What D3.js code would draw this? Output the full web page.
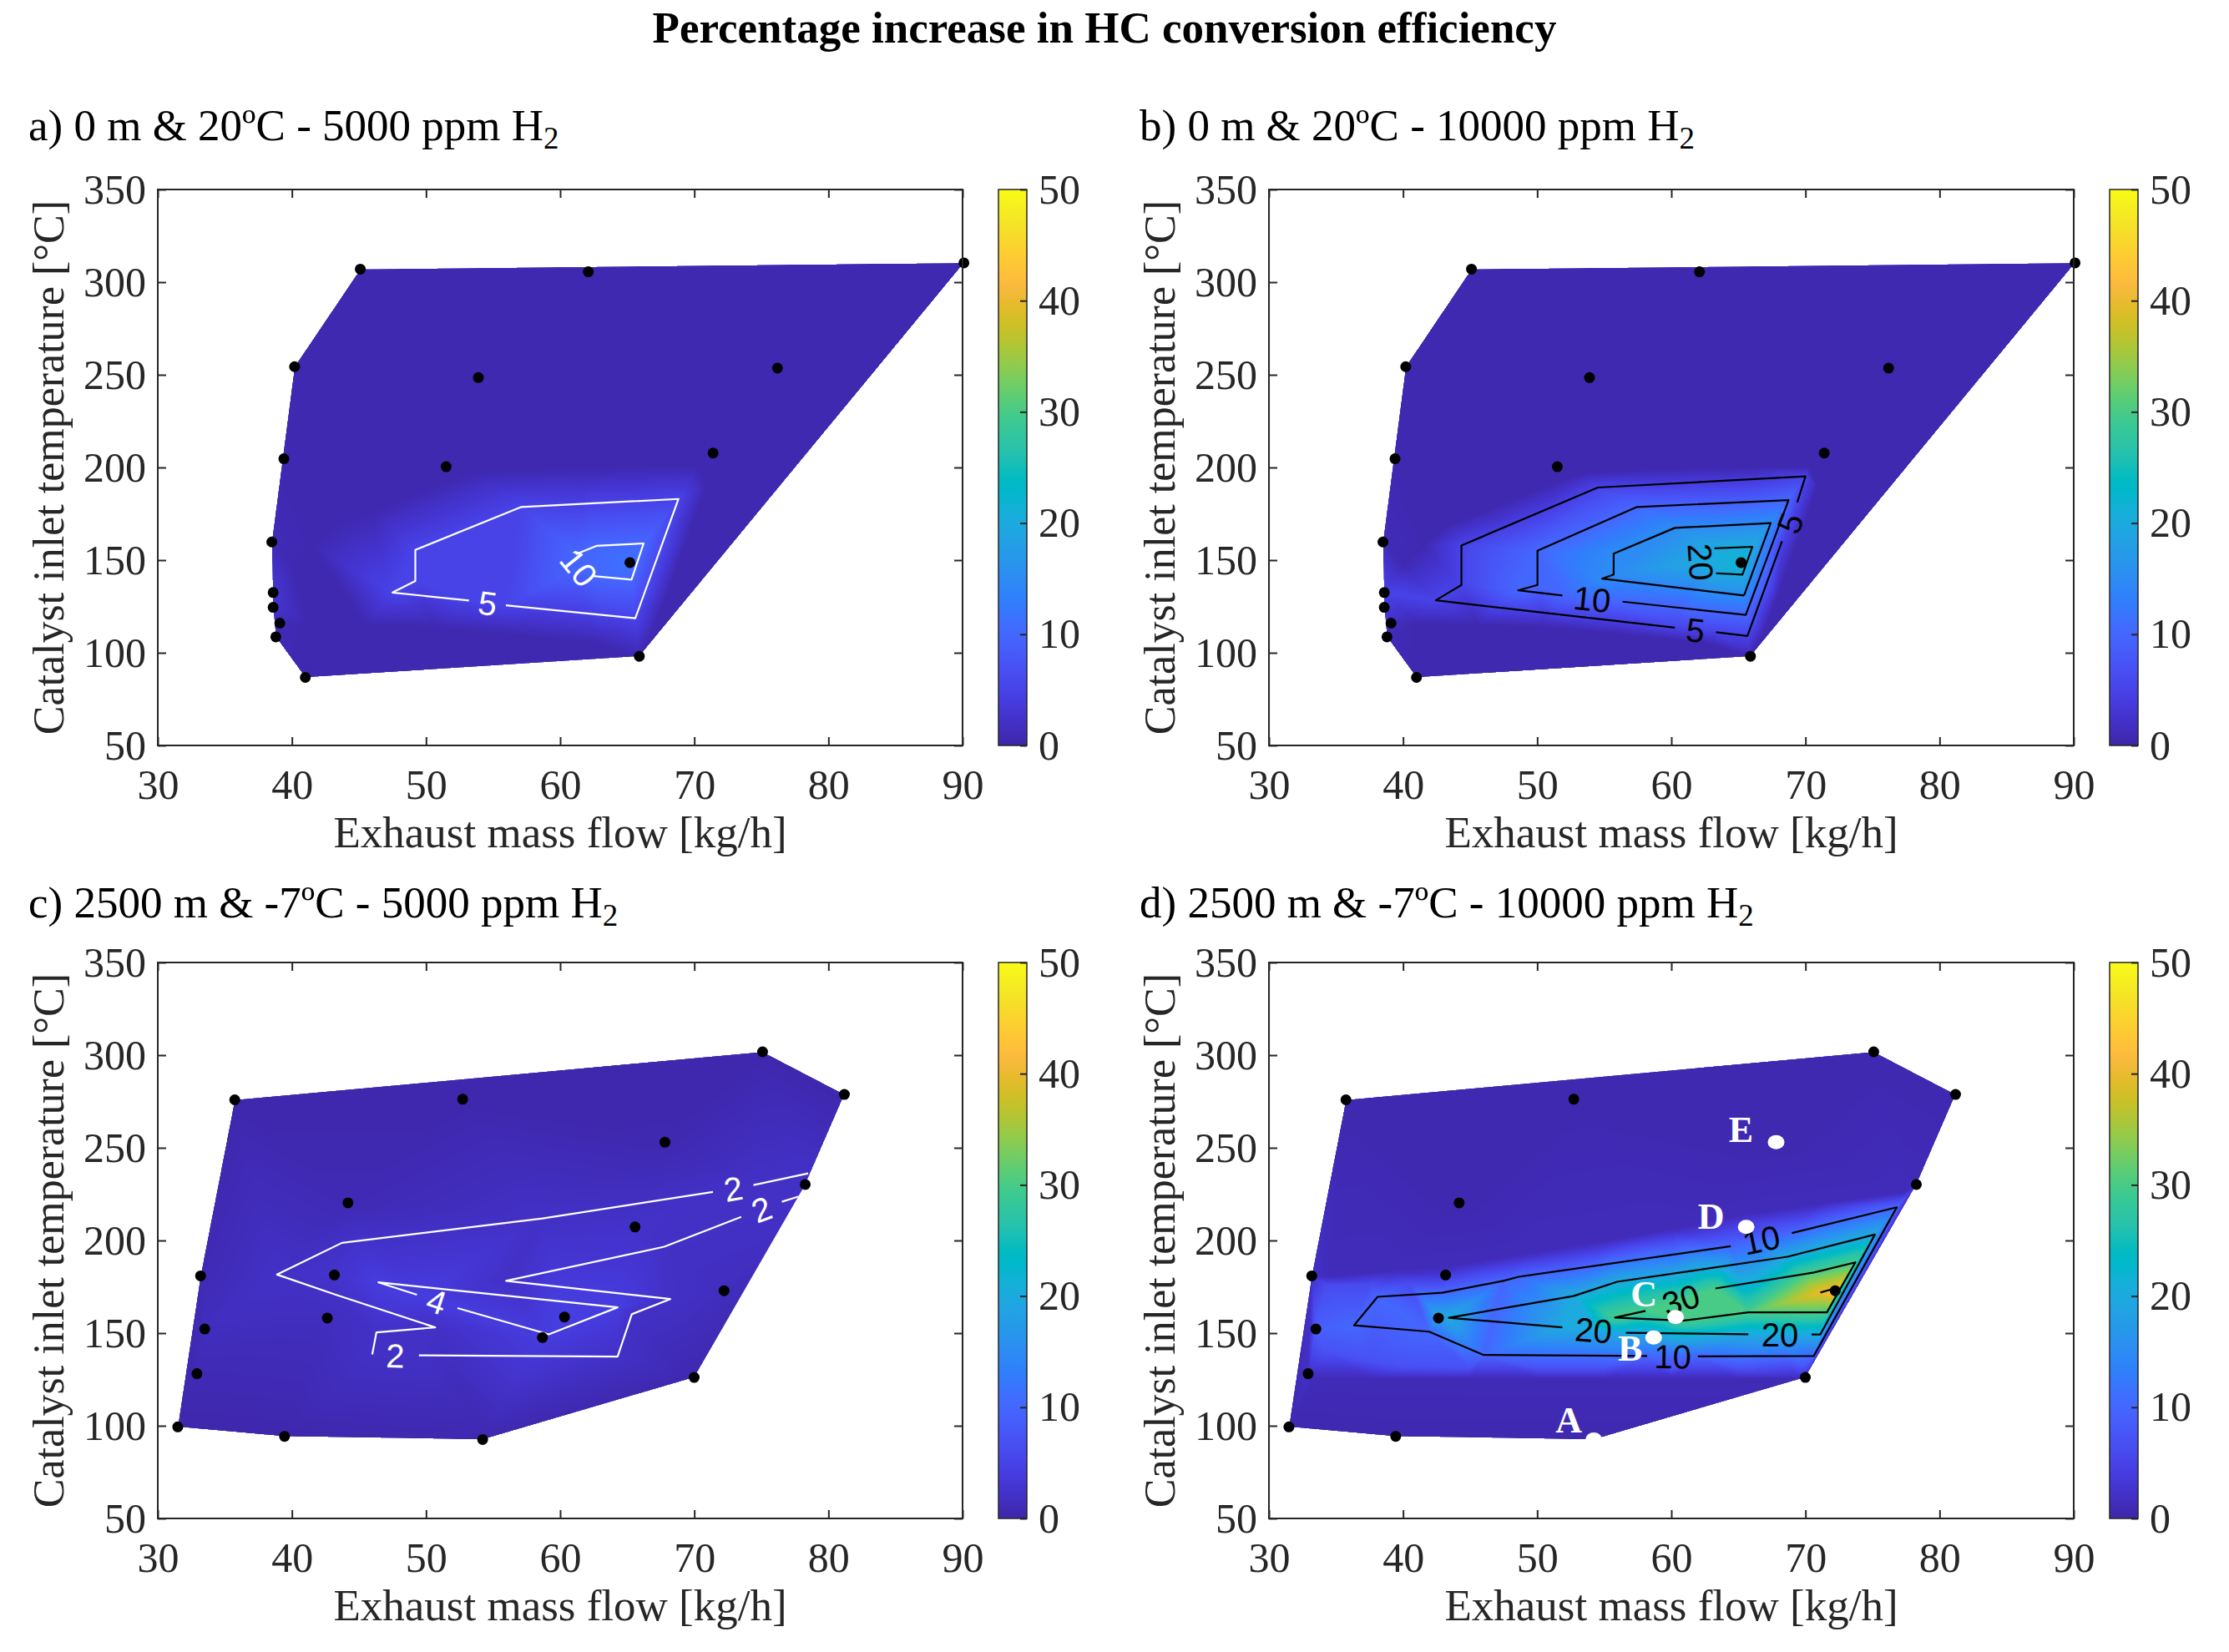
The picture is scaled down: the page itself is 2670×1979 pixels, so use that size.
<!DOCTYPE html>
<html>
<head>
<meta charset="utf-8">
<script src="https://cdn.jsdelivr.net/npm/d3@7"></script>
<style>
  body { margin: 0; background: white; }
</style>
</head>
<body>
<div id="container"></div>
<script>
// ---- data ----
// measured points, sea level (panels a and b)
const flowAB = [45.1, 62.1, 90.1, 40.2, 53.9, 76.2, 39.4, 51.5, 71.4, 38.5, 65.2, 38.6, 38.6, 39.1, 38.8, 41.0, 65.9];
const tempAB = [307.0, 305.6, 310.4, 254.4, 248.5, 253.6, 204.7, 200.4, 207.8, 159.8, 148.7, 132.5, 124.5, 116.0, 108.6, 86.7, 98.1];
const incA   = [0.5, 0.5, 0.5, 0.5, 0.5, 0.5, 0.5, 0.6, 0.5, 1.0, 11.5, 3.0, 2.5, 1.2, 0.8, 0.5, 0.6];
const incB   = [0.5, 0.5, 0.5, 0.5, 0.5, 0.5, 0.5, 0.6, 0.5, 1.2, 22.0, 5.0, 4.0, 1.8, 1.0, 0.5, 0.6];

// measured points, 2500 m (panels c and d)
const flowCD = [75.09, 81.19, 35.74, 52.73, 67.81, 78.27, 44.18, 65.58, 33.19, 43.17, 72.22, 33.50, 42.64, 60.32, 58.68, 32.92, 69.99, 31.49, 39.45, 54.22];
const tempCD = [301.8, 278.8, 275.9, 276.2, 253.0, 230.2, 220.3, 207.3, 180.9, 181.4, 172.9, 152.2, 158.1, 158.7, 147.6, 128.1, 126.1, 99.4, 94.3, 92.6];
const incC   = [0.3, 0.3, 0.3, 0.3, 0.5, 2.0, 0.8, 2.3, 0.8, 2.5, 1.5, 1.5, 1.5, 4.5, 4.0, 0.8, 0.5, 0.3, 0.3, 0.5];
const incD   = [0.5, 0.5, 0.5, 0.5, 0.5, 1.0, 0.5, 4.0, 2.0, 3.0, 43.0, 9.0, 20.0, 30.0, 18.0, 2.0, 1.0, 0.5, 0.5, 0.5];

// operating points marked in panel d
const namedNames = ['A', 'B', 'C', 'D', 'E'];
const namedIndex = [19, 14, 13, 7, 4];

// where the shading changes (read off the colours, not drawn)
const shadeAB = [
  { level: 0.6, path: [[40.0,148.0],[41.5,158.0],[43.35,168.5],[46.0,176.0],[49.0,185.0],[51.5,192.0],[53.61,197.0],[58.0,198.5],[62.0,199.3],[66.0,199.8],[70.2,200.0]] },
  { level: 0.6, path: [[41.0,116.0],[45.5,115.2],[50.59,114.0],[56.5,110.0],[62.66,105.4]] },
  { level: 0.6, path: [[70.9,190.0],[69.4,160.0],[67.9,130.0],[66.8,110.0]] }
];
const shadeD = [
  { level: 1.2, path: [[34.45,180.4],[39.0,183.5],[43.9,186.4],[49.5,193.0],[55.3,199.9],[60.0,206.0],[65.08,213.4],[71.0,219.5],[77.46,226.0]] },
  { level: 1.0, path: [[33.47,125.5],[37.5,125.5],[40.5,125.5],[45.0,125.5],[50.0,125.5],[55.0,125.5],[60.0,125.5],[65.0,125.5],[69.3,125.5]] },
  { level: 7, path: [[34.2,140.0],[37.5,135.0],[40.5,132.0],[45.0,131.3],[50.0,131.0],[55.0,131.0],[60.0,131.0],[65.0,131.0],[69.8,131.0]] },
  { level: 6, path: [[34.3,176.0],[37.5,176.5],[40.5,177.0]] }
];

// contour lines (visible pieces) and their inline labels
const contoursA = [
  { level: 5, path: [[55.95,125.6],[65.6,118.6],[68.82,183.0],[57.11,178.7],[49.2,155.5],[49.2,138.7],[47.5,132.5],[53.2,128.2]] },
  { level: 10, path: [[62.47,141.4],[65.32,139.5],[66.22,159.0],[62.70,157.7],[61.16,153.2]] }
];
const labelsA = [
  { text: '5', at: [54.6,126.9], along: [[53.2,128.2],[55.95,125.6]] },
  { text: '10', at: [61.4,146.0], along: [[61.16,153.2],[62.47,141.4]] }
];

const contoursB = [
  { level: 5, path: [[63.33,111.1],[65.67,109.1],[68.25,160.2]] },
  { level: 5, path: [[69.39,181.2],[70.0,195.2],[54.52,189.2],[44.35,157.9],[44.35,136.6],[42.44,128.3],[60.26,113.6]] },
  { level: 10, path: [[56.37,127.6],[65.55,120.4],[68.74,182.4],[57.44,178.7],[50.02,155.1],[50.02,136.6],[48.58,133.7],[51.88,130.9]] },
  { level: 15, path: [[65.42,130.9],[67.41,170.0],[60.26,167.4],[55.70,153.5],[55.70,142.2],[54.84,140.0],[65.42,130.9]] },
  { level: 20, path: [[63.21,156.4],[66.04,157.2],[65.30,142.2],[63.33,142.9]] }
];
const labelsB = [
  { text: '5', at: [68.85,170.0], along: [[68.25,160.2],[69.39,181.2]] },
  { text: '5', at: [61.8,112.3], along: [[60.26,113.6],[63.33,111.1]] },
  { text: '10', at: [54.1,129.0], along: [[51.88,130.9],[56.37,127.6]] },
  { text: '20', at: [62.2,149.0], along: [[63.21,156.4],[63.33,142.9]] }
];

const contoursC = [
  { level: 2, path: [[78.49,236.2],[74.41,229.9]] },
  { level: 2, path: [[71.39,226.2],[58.69,211.9],[43.73,198.7],[38.89,181.6],[43.27,170.7],[50.68,153.1],[46.30,150.4],[45.99,138.5]] },
  { level: 2, path: [[49.47,138.0],[64.28,137.3],[65.34,160.2],[68.21,168.4],[55.97,178.2],[67.76,196.6],[73.50,212.7]] },
  { level: 2, path: [[76.53,220.9],[77.9,224.0]] },
  { level: 4, path: [[52.34,163.5],[59.15,149.3],[64.28,163.9],[46.45,177.4],[49.32,170.7]] }
];
const labelsC = [
  { text: '2', at: [72.9,228.0], along: [[71.39,226.2],[74.41,229.9]] },
  { text: '2', at: [47.7,137.9], along: [[45.99,138.5],[49.47,138.0]] },
  { text: '2', at: [75.0,216.8], along: [[73.50,212.7],[76.53,220.9]] },
  { text: '4', at: [50.8,167.1], along: [[49.32,170.7],[52.34,163.5]] }
];

const contoursD = [
  { level: 10, path: [[68.99,204.0],[76.81,217.9],[70.62,137.7],[61.98,137.4]] },
  { level: 10, path: [[58.2,137.7],[46.01,138.2],[41.94,150.8],[36.34,154.2],[38.10,169.6],[42.92,171.8],[47.48,178.2],[48.62,180.4],[64.43,196.9]] },
  { level: 20, path: [[70.46,149.3],[71.11,149.3],[75.18,203.2],[68.66,191.2],[55.96,177.7],[52.70,170.0],[43.41,158.3],[51.88,153.1]] },
  { level: 20, path: [[56.61,150.2],[65.74,149.4]] },
  { level: 30, path: [[63.29,174.1],[70.62,182.7],[73.72,188.2],[71.60,161.2],[65.74,161.2],[60.84,156.7],[55.80,158.4],[58.08,162.0]] },
  { level: 40, path: [[71.11,171.9],[72.18,174.1]] }
];
const labelsD = [
  { text: '10', at: [66.7,200.4], along: [[64.43,196.9],[68.99,204.0]] },
  { text: '10', at: [60.1,137.5], along: [[58.2,137.7],[61.98,137.4]] },
  { text: '20', at: [68.1,149.3], along: [[65.74,149.4],[70.46,149.3]] },
  { text: '20', at: [54.2,151.6], along: [[51.88,153.1],[56.61,150.2]] },
  { text: '30', at: [60.7,168.0], along: [[58.08,162.0],[63.29,174.1]] }
];

const xTicks = [30, 40, 50, 60, 70, 80, 90];
const yTicks = [50, 100, 150, 200, 250, 300, 350];
const cTicks = [0, 10, 20, 30, 40, 50];

// parula colormap (64 steps)
const parula = [
[0.2422,0.1504,0.6603],[0.2504,0.1650,0.7076],[0.2578,0.1818,0.7511],[0.2647,0.1978,0.7952],
[0.2706,0.2147,0.8364],[0.2751,0.2342,0.8710],[0.2783,0.2559,0.8991],[0.2803,0.2782,0.9221],
[0.2813,0.3006,0.9414],[0.2810,0.3228,0.9579],[0.2795,0.3447,0.9717],[0.2760,0.3667,0.9829],
[0.2699,0.3892,0.9906],[0.2602,0.4123,0.9952],[0.2440,0.4358,0.9988],[0.2206,0.4603,0.9973],
[0.1963,0.4847,0.9892],[0.1834,0.5074,0.9798],[0.1786,0.5289,0.9682],[0.1764,0.5499,0.9520],
[0.1687,0.5703,0.9359],[0.1540,0.5902,0.9218],[0.1460,0.6091,0.9079],[0.1380,0.6276,0.8973],
[0.1248,0.6459,0.8883],[0.1113,0.6635,0.8763],[0.0952,0.6798,0.8598],[0.0689,0.6948,0.8394],
[0.0297,0.7082,0.8163],[0.0036,0.7203,0.7917],[0.0067,0.7312,0.7660],[0.0433,0.7411,0.7394],
[0.0964,0.7500,0.7120],[0.1408,0.7584,0.6842],[0.1717,0.7670,0.6554],[0.1938,0.7758,0.6251],
[0.2161,0.7843,0.5923],[0.2470,0.7918,0.5567],[0.2906,0.7973,0.5188],[0.3406,0.8008,0.4789],
[0.3909,0.8029,0.4354],[0.4456,0.8024,0.3909],[0.5044,0.7993,0.3480],[0.5616,0.7942,0.3045],
[0.6174,0.7876,0.2612],[0.6720,0.7793,0.2227],[0.7242,0.7698,0.1910],[0.7738,0.7598,0.1646],
[0.8203,0.7498,0.1535],[0.8634,0.7406,0.1596],[0.9035,0.7330,0.1774],[0.9393,0.7288,0.2100],
[0.9728,0.7298,0.2394],[0.9956,0.7434,0.2371],[0.9970,0.7659,0.2199],[0.9952,0.7893,0.2028],
[0.9892,0.8136,0.1885],[0.9786,0.8386,0.1766],[0.9676,0.8639,0.1643],[0.9610,0.8890,0.1537],
[0.9597,0.9135,0.1423],[0.9628,0.9373,0.1265],[0.9691,0.9606,0.1064],[0.9769,0.9839,0.0805]
];

function parulaRGB(t) {
  t = Math.max(0, Math.min(1, t));
  const p = t * (parula.length - 1);
  const i = Math.min(parula.length - 2, Math.floor(p));
  const f = p - i;
  return parula[i].map((c, k) => Math.round(255 * (c + (parula[i + 1][k] - c) * f)));
}

let viz = d3.select('#container')
  .append('svg')
    .attr('width', 2670)
    .attr('height', 1979)
    .style('background', 'white');

const W = 964, H = 666;
const serif = 'Liberation Serif, Times New Roman, serif';
const axisColor = '#262626';
const valueScale = d3.scaleLinear().domain([0, 50]).range([0, 1]).clamp(true);

const lut = d3.range(501).map(i => parulaRGB(i / 500));

// colorbar gradient
const defs = viz.append('defs');
const grad = defs.append('linearGradient').attr('id', 'parula')
  .attr('x1', 0).attr('y1', 1).attr('x2', 0).attr('y2', 0);
parula.forEach((c, i) => {
  grad.append('stop').attr('offset', i / (parula.length - 1))
    .attr('stop-color', d3.rgb(c[0] * 255, c[1] * 255, c[2] * 255));
});

// title
viz.append('text')
  .attr('x', 1323).attr('y', 51)
  .attr('text-anchor', 'middle')
  .attr('font-family', serif).attr('font-weight', 'bold').attr('font-size', 53)
  .text('Percentage increase in HC conversion efficiency');

const panels = [
  { tag: 'a) 0 m & 20ºC - 5000 ppm H', flow: flowAB, temp: tempAB, inc: incA, shade: shadeAB, contours: contoursA, labels: labelsA, line: 'white', x0: 189, y0: 227, ly: 168 },
  { tag: 'b) 0 m & 20ºC - 10000 ppm H', flow: flowAB, temp: tempAB, inc: incB, shade: shadeAB, contours: contoursB, labels: labelsB, line: 'black', x0: 1520, y0: 227, ly: 168 },
  { tag: 'c) 2500 m & -7ºC - 5000 ppm H', flow: flowCD, temp: tempCD, inc: incC, shade: [], contours: contoursC, labels: labelsC, line: 'white', x0: 189, y0: 1153, ly: 1099 },
  { tag: 'd) 2500 m & -7ºC - 10000 ppm H', flow: flowCD, temp: tempCD, inc: incD, shade: shadeD, contours: contoursD, labels: labelsD, line: 'black', x0: 1520, y0: 1153, ly: 1099, named: true }
];

function renderField(samples) {
  const canvas = document.createElement('canvas');
  canvas.width = W; canvas.height = H;
  const ctx = canvas.getContext('2d');
  const img = ctx.createImageData(W, H);
  const del = d3.Delaunay.from(samples, d => d.px, d => d.py);
  const t = del.triangles;
  for (let i = 0; i < t.length; i += 3) {
    const a = samples[t[i]], b = samples[t[i + 1]], c = samples[t[i + 2]];
    const det = (b.py - c.py) * (a.px - c.px) + (c.px - b.px) * (a.py - c.py);
    if (Math.abs(det) < 1e-9) continue;
    const x0 = Math.max(0, Math.floor(Math.min(a.px, b.px, c.px)));
    const x1 = Math.min(W - 1, Math.ceil(Math.max(a.px, b.px, c.px)));
    const y0 = Math.max(0, Math.floor(Math.min(a.py, b.py, c.py)));
    const y1 = Math.min(H - 1, Math.ceil(Math.max(a.py, b.py, c.py)));
    for (let yy = y0; yy <= y1; yy++) {
      const py = yy + 0.5;
      for (let xx = x0; xx <= x1; xx++) {
        const px = xx + 0.5;
        const l1 = ((b.py - c.py) * (px - c.px) + (c.px - b.px) * (py - c.py)) / det;
        const l2 = ((c.py - a.py) * (px - c.px) + (a.px - c.px) * (py - c.py)) / det;
        const l3 = 1 - l1 - l2;
        if (l1 < -1e-4 || l2 < -1e-4 || l3 < -1e-4) continue;
        const v = l1 * a.v + l2 * b.v + l3 * c.v;
        const col = lut[Math.round(valueScale(v) * 500)];
        const o = (yy * W + xx) * 4;
        img.data[o] = col[0]; img.data[o + 1] = col[1]; img.data[o + 2] = col[2]; img.data[o + 3] = 255;
      }
    }
  }
  ctx.putImageData(img, 0, 0);
  return canvas.toDataURL();
}

function labelAngle(seg, x, y) {
  let a = Math.atan2(y(seg[1][1]) - y(seg[0][1]), x(seg[1][0]) - x(seg[0][0])) * 180 / Math.PI;
  if (a > 90) a -= 180;
  if (a <= -90) a += 180;
  return a;
}

panels.forEach((p, k) => {
  const x = d3.scaleLinear().domain([30, 90]).range([p.x0, p.x0 + W]);
  const y = d3.scaleLinear().domain([50, 350]).range([p.y0 + H, p.y0]);
  const g = viz.append('g');

  // panel tag
  const tag = g.append('text')
    .attr('x', p.x0 - 155).attr('y', p.ly)
    .attr('font-family', serif).attr('font-size', 53)
    .text(p.tag);
  tag.append('tspan').attr('font-size', 37).attr('dy', 10).text('2');

  // field samples: measured points, contour vertices, shading lines
  const samples = p.flow.map((f, i) => ({ px: x(f) - p.x0, py: y(p.temp[i]) - p.y0, v: p.inc[i] }));
  p.contours.concat(p.shade).forEach(c => c.path.forEach(q => samples.push({ px: x(q[0]) - p.x0, py: y(q[1]) - p.y0, v: c.level })));
  p.labels.forEach(l => samples.push({ px: x(l.at[0]) - p.x0, py: y(l.at[1]) - p.y0, v: +l.text }));

  const hull = d3.polygonHull(p.flow.map((f, i) => [x(f), y(p.temp[i])]));
  defs.append('clipPath').attr('id', 'hull' + k)
    .append('polygon').attr('points', hull.map(q => q.join(',')).join(' '));

  g.append('image')
    .attr('x', p.x0).attr('y', p.y0)
    .attr('width', W).attr('height', H)
    .attr('preserveAspectRatio', 'none')
    .attr('clip-path', 'url(#hull' + k + ')')
    .attr('href', renderField(samples));

  // contour lines
  const line = d3.line().x(d => x(d[0])).y(d => y(d[1]));
  g.append('g').attr('clip-path', 'url(#hull' + k + ')')
    .selectAll('path').data(p.contours).join('path')
      .attr('d', d => line(d.path))
      .attr('fill', 'none')
      .attr('stroke', p.line)
      .attr('stroke-width', 2.2)
      .attr('stroke-linejoin', 'round');

  g.append('g').selectAll('text').data(p.labels).join('text')
    .attr('transform', d => 'translate(' + x(d.at[0]) + ',' + y(d.at[1]) + ') rotate(' + labelAngle(d.along, x, y) + ')')
    .attr('text-anchor', 'middle')
    .attr('dy', '0.36em')
    .attr('font-family', 'Liberation Sans, Arial, sans-serif')
    .attr('font-size', 40)
    .attr('fill', p.line)
    .text(d => d.text);

  // measured points
  const named = p.named ? namedIndex : [];
  g.append('g').selectAll('circle').data(p.flow.map((f, i) => i).filter(i => !named.includes(i))).join('circle')
    .attr('cx', i => x(p.flow[i])).attr('cy', i => y(p.temp[i]))
    .attr('r', 6.5).attr('fill', 'black');

  if (p.named) {
    const off = { A: [-30, -8], B: [-28, 28], C: [-38, -13], D: [-42, 2], E: [-42, 0] };
    namedIndex.forEach((i, j) => {
      g.append('ellipse')
        .attr('cx', x(p.flow[i])).attr('cy', y(p.temp[i]))
        .attr('rx', 10).attr('ry', 8.5).attr('fill', 'white');
      const n = namedNames[j];
      g.append('text')
        .attr('x', x(p.flow[i]) + off[n][0]).attr('y', y(p.temp[i]) + off[n][1])
        .attr('text-anchor', 'middle')
        .attr('font-family', serif).attr('font-weight', 'bold').attr('font-size', 44)
        .attr('fill', 'white')
        .text(n);
    });
  }

  // axes (ticks inside, box on)
  const styleAxis = sel => {
    sel.select('.domain').remove();
    sel.selectAll('line').attr('stroke', axisColor).attr('stroke-width', 2);
    sel.selectAll('text').attr('fill', axisColor);
    sel.attr('font-family', serif).attr('font-size', 50);
  };
  g.append('g').attr('transform', 'translate(0,' + (p.y0 + H) + ')')
    .call(d3.axisBottom(x).tickValues(xTicks).tickSize(-10).tickPadding(28)).call(styleAxis);
  g.append('g').attr('transform', 'translate(0,' + p.y0 + ')')
    .call(d3.axisTop(x).tickValues(xTicks).tickSize(-10).tickFormat('')).call(styleAxis);
  g.append('g').attr('transform', 'translate(' + p.x0 + ',0)')
    .call(d3.axisLeft(y).tickValues(yTicks).tickSize(-10).tickPadding(14)).call(styleAxis);
  g.append('g').attr('transform', 'translate(' + (p.x0 + W) + ',0)')
    .call(d3.axisRight(y).tickValues(yTicks).tickSize(-10).tickFormat('')).call(styleAxis);
  g.append('rect')
    .attr('x', p.x0).attr('y', p.y0).attr('width', W).attr('height', H)
    .attr('fill', 'none').attr('stroke', axisColor).attr('stroke-width', 2);

  // axis titles
  g.append('text')
    .attr('x', p.x0 + W / 2).attr('y', p.y0 + H + 122)
    .attr('text-anchor', 'middle')
    .attr('font-family', serif).attr('font-size', 53).attr('fill', axisColor)
    .text('Exhaust mass flow [kg/h]');
  g.append('text')
    .attr('transform', 'translate(' + (p.x0 - 113) + ',' + (p.y0 + H / 2) + ') rotate(-90)')
    .attr('text-anchor', 'middle')
    .attr('font-family', serif).attr('font-size', 52).attr('fill', axisColor)
    .text('Catalyst inlet temperature [°C]');

  // colorbar
  const cbx = p.x0 + 1007, cbw = 34;
  const cy = d3.scaleLinear().domain([0, 50]).range([p.y0 + H, p.y0]);
  g.append('rect')
    .attr('x', cbx).attr('y', p.y0).attr('width', cbw).attr('height', H)
    .attr('fill', 'url(#parula)');
  g.append('g').attr('transform', 'translate(' + (cbx + cbw) + ',0)')
    .call(d3.axisRight(cy).tickValues(cTicks).tickSize(-8).tickPadding(14)).call(styleAxis);
  g.append('rect')
    .attr('x', cbx).attr('y', p.y0).attr('width', cbw).attr('height', H)
    .attr('fill', 'none').attr('stroke', axisColor).attr('stroke-width', 1.5);
});
</script>
</body>
</html>
